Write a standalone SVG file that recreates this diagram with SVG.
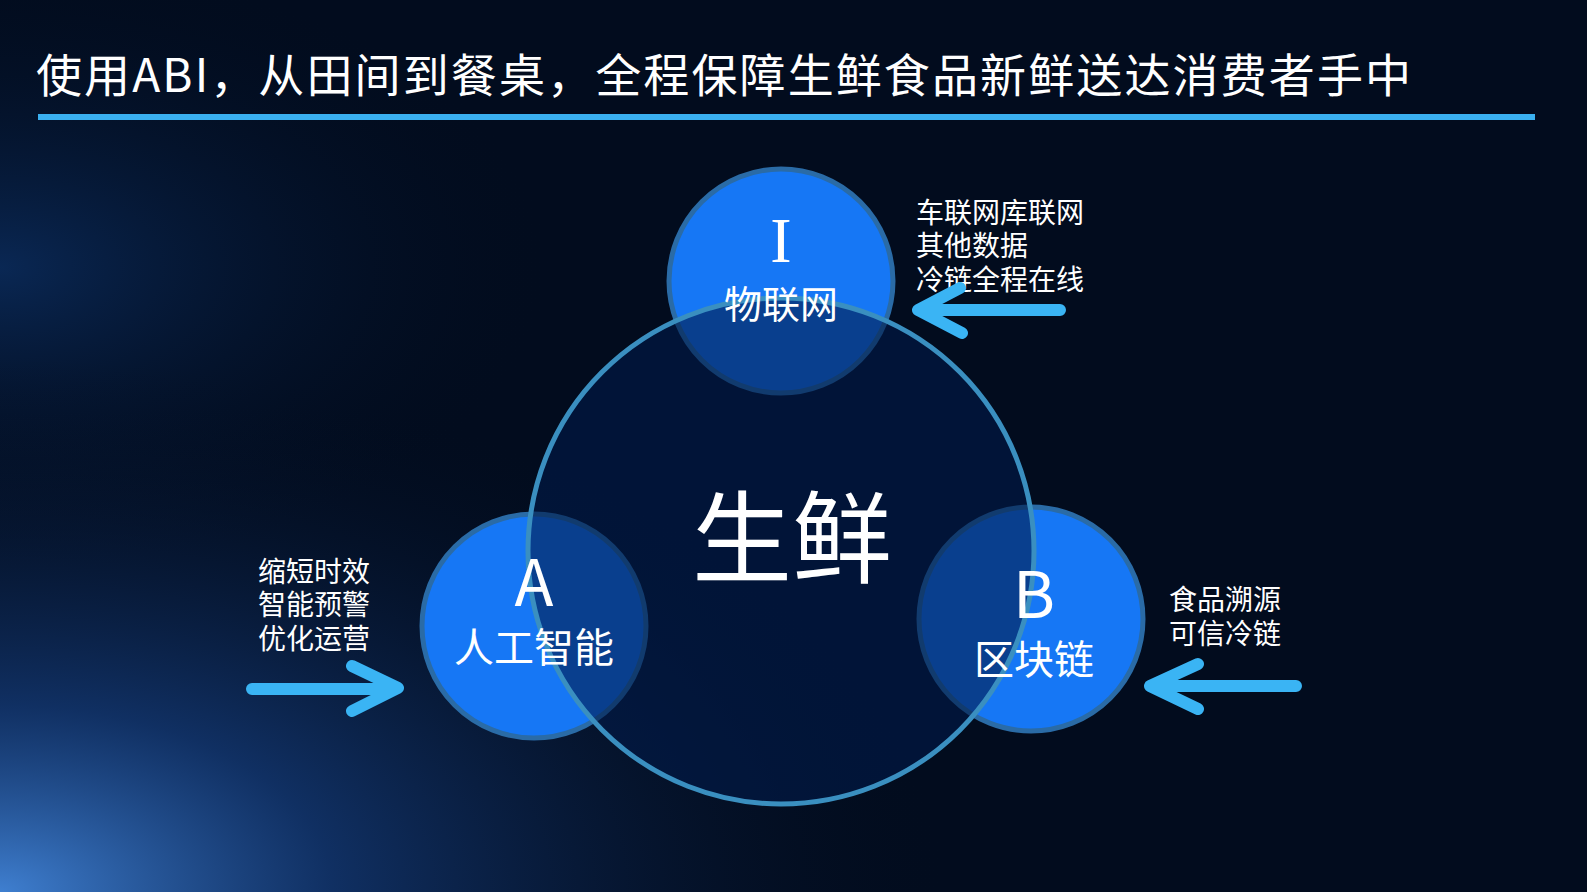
<svg xmlns="http://www.w3.org/2000/svg" width="1587" height="892" viewBox="0 0 1587 892">
<defs>
<radialGradient id="bg1" cx="0" cy="1" r="0.6">
<stop offset="0" stop-color="#3f7fd0"/><stop offset="0.35" stop-color="#163f80" stop-opacity="0.7"/><stop offset="1" stop-color="#020c1e" stop-opacity="0"/>
</radialGradient>
<radialGradient id="bg2" cx="0" cy="0.3" r="0.35">
<stop offset="0" stop-color="#0f3a78" stop-opacity="0.6"/><stop offset="1" stop-color="#020c1e" stop-opacity="0"/>
</radialGradient>
<style>
.t{font-family:"Noto Sans CJK SC","Liberation Sans",sans-serif;fill:#fff}
.sm{font-size:28px}
.c{fill:#1677f5;stroke:#2a6ba6;stroke-width:5}
.ar{fill:none;stroke:#3ab4f4;stroke-width:12;stroke-linecap:round;stroke-linejoin:round}
</style>
</defs>
<rect width="1587" height="892" fill="#020c1e"/>
<rect width="1587" height="892" fill="url(#bg2)"/>
<rect width="1587" height="892" fill="url(#bg1)"/>
<text class="t" x="36" y="92" font-size="46" textLength="1375" lengthAdjust="spacing">使用ABI，从田间到餐桌，全程保障生鲜食品新鲜送达消费者手中</text>
<rect x="38" y="114" width="1497" height="6" fill="#3ab0f0"/>
<g id="node-iot"><circle class="c" cx="781" cy="281" r="112"/></g>
<g id="node-ai"><circle class="c" cx="534" cy="626" r="112"/></g>
<g id="node-bc"><circle class="c" cx="1031" cy="619" r="112"/></g>
<g id="node-center"><circle cx="781" cy="551" r="253" fill="#021a4a" fill-opacity="0.6" stroke="#3a8fc0" stroke-width="5"/>
<text class="t" x="792" y="575" font-size="100" text-anchor="middle">生鲜</text></g>
<g id="labels">
<text x="781" y="262" font-size="64" fill="#fff" font-family="Liberation Serif,serif" text-anchor="middle">I</text>
<text class="t" x="781" y="318" font-size="38" text-anchor="middle">物联网</text>
<text class="t" x="534" y="606" font-size="64" text-anchor="middle">A</text>
<text class="t" x="534" y="662" font-size="40" text-anchor="middle">人工智能</text>
<text class="t" x="1034" y="618" font-size="64" text-anchor="middle">B</text>
<text class="t" x="1034" y="674" font-size="40" text-anchor="middle">区块链</text>
</g>
<g id="notes">
<text class="t sm" x="916" y="223">车联网库联网</text>
<text class="t sm" x="916" y="256">其他数据</text>
<text class="t sm" x="916" y="290">冷链全程在线</text>
<text class="t sm" x="258" y="582">缩短时效</text>
<text class="t sm" x="258" y="615">智能预警</text>
<text class="t sm" x="258" y="649">优化运营</text>
<text class="t sm" x="1169" y="610">食品溯源</text>
<text class="t sm" x="1169" y="644">可信冷链</text>
</g>
<g id="connectors">
<path class="ar" d="M1060 310H922M960 288L918 310L962 333"/>
<path class="ar" d="M252 689H395M352 666L398 688L352 711"/>
<path class="ar" d="M1296 686H1152M1198 664L1150 686L1198 709"/>
</g>
</svg>
